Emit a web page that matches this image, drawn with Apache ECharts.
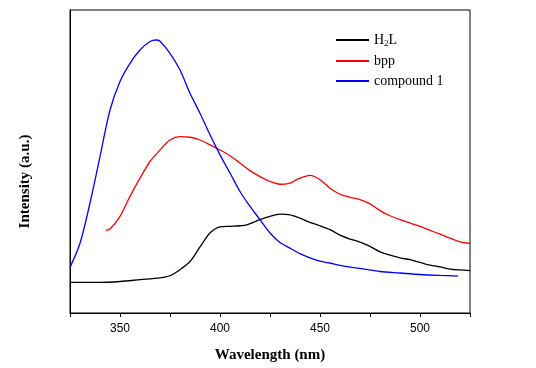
<!DOCTYPE html>
<html><head><meta charset="utf-8">
<script src="https://cdn.jsdelivr.net/npm/echarts@6/dist/echarts.min.js"></script>
<style>html,body{margin:0;padding:0;background:#fff}#c{width:536px;height:368px}</style>
</head><body><div id="c"></div>
<script>
const xTicks = [350, 400, 450, 500];
const h2lX = [325,340,350,360,370,375,380,385,390,395,400,405,410,413,420,425,430,435,440,445,450,455,460,465,470,475,480,485,490,495,500,505,510,515,520,525];
const h2lY = [10.1,10.1,10.4,11,11.6,12.3,14.3,17,21.8,26.4,28.4,28.6,28.8,29,30.8,31.9,32.6,32.4,31.3,29.9,28.8,27.5,25.7,24.4,23.4,22,20.2,19.1,18.2,17.6,16.7,15.8,15.2,14.5,14.2,14];
const bppX = [343,345,350,355,360,365,370,375,380,385,390,395,400,405,410,415,420,425,430,435,440,445,450,455,460,465,470,475,480,485,490,495,500,505,510,515,520,525];
const bppY = [27.3,27.7,31.9,38.5,44.5,50,53.8,57.1,58.2,58,57.1,55.5,53.8,51.9,49.5,47,45,43.4,42.5,42.9,44.5,45.4,44,41.2,39.2,38.2,37.4,36,33.8,32.1,30.8,29.7,28.6,27.3,26,24.7,23.5,23];
const c1X = [325,330,335,340,345,350,355,360,365,368,370,375,380,385,390,395,400,405,410,415,420,425,430,435,440,445,450,455,460,470,480,490,500,510,519];
const c1Y = [15,23,36.3,51.6,67,76.4,82.4,86.8,89.6,90.1,89.7,85.7,80.2,72.5,65.9,58.8,52.2,46.2,40.1,35.2,30.8,26.4,23.3,21.4,19.6,18.2,17.1,16.5,15.7,14.7,13.7,13.2,12.7,12.4,12.2];
const names = ['H2L', 'bpp', 'compound 1'];
const colors = ['#000000', '#ff0000', '#0000ff'];

const zip = (a, b) => a.map((v, i) => [v, b[i]]);
const chart = echarts.init(document.getElementById('c'));
const serif = '"Liberation Serif", "Times New Roman", serif';
chart.setOption({
  animation: false,
  grid: {left: 70, right: 66, top: 10, bottom: 55, show: true, borderColor: '#000', borderWidth: 1},
  legend: {
    top: 28, left: 331, orient: 'vertical', itemWidth: 33, itemHeight: 2, itemGap: 6,
    icon: 'rect',
    textStyle: {fontFamily: serif, fontSize: 14, color: '#000',
      rich: {s: {fontSize: 9, verticalAlign: 'bottom', padding: [7,0,0,0], fontFamily: serif}}},
    formatter: n => n === 'H2L' ? 'H{s|2}L' : n,
    data: names
  },
  xAxis: {
    type: 'value', min: 325, max: 525, interval: 25,
    name: 'Wavelength (nm)', nameLocation: 'middle', nameGap: 35,
    nameTextStyle: {fontFamily: serif, fontWeight: 'bold', fontSize: 15, color: '#000'},
    axisLine: {lineStyle: {color: '#000'}},
    axisTick: {show: true, length: 4, inside: false, lineStyle: {color: '#000'}},
    axisLabel: {fontFamily: '"Liberation Sans", Arial, sans-serif', fontSize: 12, color: '#000', margin: 10,
      formatter: v => xTicks.includes(v) ? String(v) : ''},
    splitLine: {show: false}
  },
  yAxis: {
    type: 'value', min: 0, max: 100,
    name: 'Intensity (a.u.)', nameLocation: 'middle', nameGap: 37,
    nameTextStyle: {fontFamily: serif, fontWeight: 'bold', fontSize: 15, color: '#000', padding: [0, 40, 0, 0]},
    axisLine: {show: true, lineStyle: {color: '#000'}},
    axisTick: {show: false}, axisLabel: {show: false}, splitLine: {show: false}
  },
  series: [
    {name: names[0], type: 'line', data: zip(h2lX, h2lY)},
    {name: names[1], type: 'line', data: zip(bppX, bppY)},
    {name: names[2], type: 'line', data: zip(c1X, c1Y)}
  ].map((s, i) => Object.assign(s, {smooth: 0.3, showSymbol: false, symbol: 'none',
      color: colors[i], lineStyle: {width: 1.3, color: colors[i]}}))
});
</script></body></html>
